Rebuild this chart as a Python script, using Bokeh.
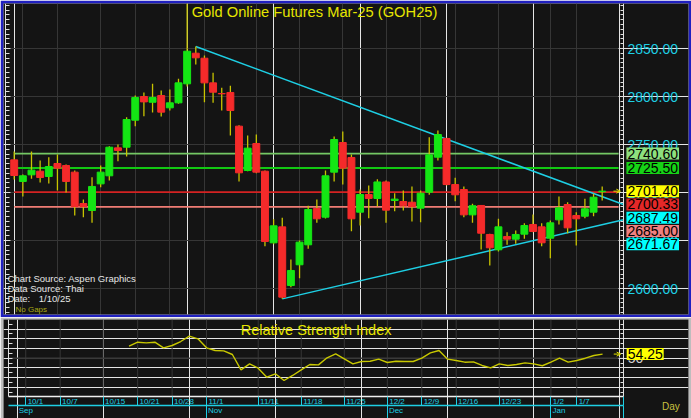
import numpy as np
from bokeh.plotting import figure
from bokeh.models import (ColumnDataSource, Range1d, LinearAxis, FixedTicker,
                          SingleIntervalTicker, Grid, Label, Arrow, OpenHead,
                          PrintfTickFormatter)
from bokeh.layouts import column
from bokeh.embed import file_html
from bokeh.resources import INLINE

# ---------------- data ----------------
opens = [2734.0, 2711.5, 2718.4, 2722.2, 2716.7, 2730.2, 2728.1, 2721.2, 2688.5, 2681.3,
         2709.0, 2717.4, 2746.5, 2747.2, 2775.3, 2800.0, 2794.0, 2801.0, 2788.2, 2793.4,
         2813.2, 2845.1, 2839.9, 2814.2, 2803.1, 2804.2, 2769.1, 2722.9, 2751.0, 2722.2,
         2647.6, 2664.2, 2603.1, 2624.7, 2645.5, 2683.3, 2674.3, 2721.2, 2752.1, 2736.5,
         2679.5, 2697.9, 2693.8, 2711.0, 2691.7, 2690.6, 2689.9, 2683.7, 2700.3, 2736.8,
         2756.3, 2708.3, 2703.1, 2676.7, 2686.5, 2656.3, 2640.3, 2654.2, 2651.4, 2656.6,
         2666.7, 2664.2, 2652.4, 2671.5, 2687.5, 2676.0, 2675.3, 2679.5, 2700.8]
highs = [2742.7, 2718.8, 2742.7, 2733.3, 2736.8, 2739.6, 2729.2, 2722.9, 2692.7, 2716.0,
         2728.1, 2748.3, 2750.0, 2778.5, 2801.0, 2804.2, 2813.2, 2806.3, 2807.3, 2818.4,
         2897.0, 2852.1, 2842.7, 2824.7, 2809.0, 2811.1, 2770.0, 2759.4, 2760.4, 2722.9,
         2672.2, 2673.6, 2630.2, 2650.0, 2686.1, 2692.7, 2722.9, 2758.3, 2763.5, 2739.6,
         2703.1, 2707.3, 2713.9, 2712.5, 2699.3, 2702.1, 2706.3, 2702.1, 2757.6, 2764.6,
         2757.0, 2715.3, 2706.3, 2688.2, 2687.0, 2657.0, 2672.6, 2658.7, 2660.4, 2668.1,
         2677.1, 2668.1, 2670.8, 2695.8, 2689.9, 2679.5, 2693.4, 2698.6, 2706.3]
lows = [2713.5, 2695.8, 2714.2, 2710.4, 2709.4, 2702.1, 2700.0, 2676.0, 2674.3, 2668.4,
        2705.6, 2712.5, 2732.6, 2737.5, 2769.1, 2779.5, 2783.3, 2779.2, 2785.4, 2792.4,
        2810.4, 2833.3, 2794.1, 2793.4, 2785.4, 2759.4, 2711.5, 2722.2, 2720.1, 2644.1,
        2646.0, 2589.2, 2601.4, 2610.8, 2641.3, 2668.4, 2673.0, 2711.5, 2708.3, 2659.7,
        2665.6, 2673.3, 2685.4, 2668.4, 2680.6, 2681.3, 2669.8, 2669.1, 2697.6, 2733.3,
        2707.3, 2691.0, 2674.3, 2668.6, 2640.6, 2624.0, 2638.5, 2645.5, 2646.5, 2651.7,
        2658.5, 2644.0, 2631.6, 2666.7, 2657.6, 2644.8, 2673.3, 2675.3, 2691.7]
closes = [2717.7, 2717.4, 2723.3, 2715.6, 2727.1, 2725.3, 2711.5, 2685.4, 2685.4, 2706.3,
          2721.2, 2747.2, 2743.8, 2776.0, 2799.0, 2794.4, 2799.0, 2783.7, 2793.4, 2814.2,
          2847.2, 2840.3, 2814.2, 2804.5, 2802.8, 2785.4, 2720.5, 2746.2, 2721.2, 2649.0,
          2665.3, 2591.0, 2618.8, 2648.3, 2682.3, 2672.6, 2717.4, 2755.2, 2725.3, 2672.6,
          2697.9, 2693.8, 2711.0, 2681.6, 2693.1, 2686.1, 2685.4, 2699.3, 2739.2, 2760.4,
          2708.3, 2697.6, 2676.7, 2686.2, 2657.6, 2642.4, 2664.2, 2651.4, 2656.3, 2665.6,
          2659.4, 2647.6, 2668.4, 2684.0, 2663.2, 2672.6, 2683.0, 2695.1, 2701.4]
rsi_start = 13
rsi_vals = [62.4, 66.5, 65.8, 66.5, 60.7, 63.1, 67.2, 72.7, 70.0, 60.7,
            57.9, 57.6, 53.8, 38.0, 44.2, 39.7, 30.4, 33.9, 27.0, 32.2,
            38.0, 43.5, 43.1, 50.4, 54.5, 49.4, 44.2, 46.6, 46.9, 49.0,
            45.6, 46.9, 46.6, 46.6, 50.0, 55.5, 57.9, 49.0, 47.6, 45.9,
            46.2, 42.5, 40.1, 44.2, 42.5, 43.5, 45.2, 44.2, 42.2, 45.9,
            50.0, 45.9, 47.6, 50.0, 52.8, 54.25]
tick_idx = [1, 5, 10, 14, 18, 22, 28, 33, 38, 43, 47, 51, 56, 62, 65]
tick_lbl = ["10/1", "10/7", "10/15", "10/21", "10/28", "11/1", "11/11", "11/18",
            "11/25", "12/2", "12/9", "12/16", "12/23", "1/2", "1/7"]
month_idx = [0, 22, 43, 62]
month_lbl = ["Sep", "Nov", "Dec", "Jan"]
level_vals = [2740.60, 2725.50, 2700.33, 2685.00]
level_cols = ["#74c864", "#12c812", "#d42222", "#f07c74"]
tag_vals = [2740.60, 2725.50, 2701.40, 2700.33, 2687.49, 2685.00, 2671.67]
tag_cols = ["#8ee07e", "#16d416", "#ffff00", "#e42828", "#00ffff", "#f08080", "#00ffff"]
upper_end = 2687.49
lower_end = 2671.67
last_rsi = 54.25

# ---------------- style ----------------
FONT = "Liberation Sans"
BG = "#141414"
GRID = "#363636"
CYAN = "#1ecfe4"
YEL = "#e6e600"
WICK = "#c8c400"
UP = "#14e614"
DN = "#f52a2a"
AXC = "#e0e0e0"

n = len(closes)
idx = list(range(n))
# axis positions (in bar units) and panel extents
ax_left, ax_right = -1.0, 70.46
main_x = (-1.2374, 77.981)
main_y = (2572.92, 2896.88)
rsi_x = (-1.584, 77.981)
rsi_y = (-12.16, 89.9)
rsi_lo, rsi_hi = 10.5, 89.9

# ---------------- main price panel ----------------
p = figure(width=691, height=317, x_range=Range1d(*main_x), y_range=Range1d(*main_y),
           x_axis_location=None, y_axis_location=None, toolbar_location=None,
           output_backend="svg", title=None,
           background_fill_color=BG, border_fill_color="#2020c0", outline_line_color=None,
           min_border_left=3, min_border_right=3, min_border_top=3, min_border_bottom=3)

ax_r = LinearAxis(fixed_location=ax_right,
                  ticker=SingleIntervalTicker(interval=50, num_minor_ticks=10),
                  formatter=PrintfTickFormatter(format="%.2f"),
                  axis_line_color=AXC, major_tick_line_color=AXC, minor_tick_line_color=AXC,
                  major_tick_in=5, major_tick_out=0, minor_tick_in=3, minor_tick_out=0,
                  major_label_text_color=CYAN, major_label_text_font=FONT,
                  major_label_text_font_size="14px", major_label_standoff=4)
p.add_layout(ax_r, "right")
ax_l = LinearAxis(fixed_location=ax_left,
                  ticker=SingleIntervalTicker(interval=50, num_minor_ticks=10),
                  axis_line_color=AXC, major_tick_line_color=AXC, minor_tick_line_color=AXC,
                  major_tick_in=5, major_tick_out=0, minor_tick_in=4, minor_tick_out=0,
                  major_label_text_color=None, major_label_standoff=0)
p.add_layout(ax_l, "left")
p.add_layout(Grid(dimension=0, ticker=FixedTicker(ticks=tick_idx), grid_line_color=GRID))
hgrid = list(range(2600, 2900, 50))
p.segment(x0=[ax_left] * len(hgrid), y0=hgrid, x1=[ax_right] * len(hgrid), y1=hgrid,
          line_color=GRID, line_width=1)

# level lines
x_line_end = n + 0.9
for v, c in zip(level_vals, level_cols):
    p.segment(x0=[0], y0=[v], x1=[x_line_end], y1=[v], line_color=c, line_width=1.8)

# trend lines
i_hi = 21
i_lo = 31
p.line([i_hi, ax_right], [highs[i_hi], upper_end], line_color=CYAN, line_width=1.5)
p.line([i_lo, ax_right], [lows[i_lo], lower_end], line_color=CYAN, line_width=1.5)

# candles
cols = [UP if c >= o else DN for o, c in zip(opens, closes)]
src = ColumnDataSource(dict(x=idx, o=opens, h=highs, l=lows, c=closes,
                            top=[max(a, b) for a, b in zip(opens, closes)],
                            bot=[min(a, b) for a, b in zip(opens, closes)], col=cols))
p.segment(x0="x", y0="l", x1="x", y1="h", source=src, line_color=WICK, line_width=1.3)
p.vbar(x="x", top="top", bottom="bot", width=0.8, fill_color="col", line_color="col",
       line_width=1, source=src)

# last price arrow
p.add_layout(Arrow(end=OpenHead(size=4, line_color=YEL, line_width=1),
                   x_start=n + 0.3, y_start=closes[-1], x_end=n + 1.1, y_end=closes[-1],
                   line_color=YEL, line_width=1))

# title
p.add_layout(Label(x=(ax_left + ax_right) / 2, y=2888.0,
                   text="Gold Online Futures Mar-25 (GOH25)",
                   text_font=FONT, text_font_size="14.7px", text_color=YEL,
                   text_align="center", text_baseline="middle"))

# info block
info_x = -0.77
for t, y in [("Chart Source: Aspen Graphics", 2610.7), ("Data Source: Thai", 2600.3),
             ("Date:", 2589.6)]:
    p.add_layout(Label(x=info_x, y=y, text=t, text_font=FONT, text_font_size="9.5px",
                       text_color="#e6e6e6", text_align="left", text_baseline="middle"))
p.add_layout(Label(x=2.84, y=2589.6, text="1/10/25", text_font=FONT, text_font_size="9.5px",
                   text_color="#e6e6e6", text_align="left", text_baseline="middle"))
p.add_layout(Label(x=0.15, y=2578.6, text="No Gaps", text_font=FONT, text_font_size="8px",
                   text_color="#a8a814", text_align="left", text_baseline="middle"))

# value tags on the right (stacked so they don't overlap)
gap = 13.85
prev = None
tag_pos = []
for v in tag_vals:
    yv = v if prev is None else min(v, prev - gap)
    tag_pos.append(yv)
    prev = yv
for v, yv, c in zip(tag_vals, tag_pos, tag_cols):
    p.add_layout(Label(x=70.8, y=yv, text="%.2f" % v, text_font=FONT, text_font_size="14px",
                       text_color="#000000", text_align="left", text_baseline="middle",
                       background_fill_color=c, padding=1))

# ---------------- RSI panel ----------------
r = figure(width=691, height=101, x_range=Range1d(*rsi_x), y_range=Range1d(*rsi_y),
           x_axis_location=None, y_axis_location=None, toolbar_location=None,
           output_backend="svg", title=None,
           background_fill_color=BG, border_fill_color="#bdbdbd", outline_line_color=None,
           min_border_left=0, min_border_right=3, min_border_top=2, min_border_bottom=0)

r.segment(x0=tick_idx, y0=[rsi_lo] * len(tick_idx), x1=tick_idx, y1=[rsi_hi] * len(tick_idx),
          line_color=GRID, line_width=1)
r.segment(x0=[ax_left], y0=[50], x1=[ax_right], y1=[50], line_color="#3a3a3a", line_width=1.5)

ra_r = LinearAxis(fixed_location=ax_right, bounds=(rsi_lo, rsi_hi),
                  ticker=FixedTicker(ticks=[50], minor_ticks=list(range(15, 90, 5))),
                  axis_line_color=AXC, major_tick_line_color=AXC, minor_tick_line_color=AXC,
                  major_tick_in=5, major_tick_out=0, minor_tick_in=3, minor_tick_out=0,
                  major_label_text_color="#cfcfcf", major_label_text_font=FONT,
                  major_label_text_font_size="14px", major_label_standoff=4)
r.add_layout(ra_r, "right")
ra_l = LinearAxis(fixed_location=ax_left, bounds=(rsi_lo, rsi_hi),
                  ticker=FixedTicker(ticks=[], minor_ticks=list(range(15, 90, 5))),
                  axis_line_color=AXC, minor_tick_line_color=AXC,
                  minor_tick_in=4, minor_tick_out=0, major_label_text_color=None,
                  major_label_standoff=0)
r.add_layout(ra_l, "left")

# date axis rows
ax_d = LinearAxis(fixed_location=rsi_lo, bounds=(ax_left, ax_right),
                  ticker=FixedTicker(ticks=tick_idx + [ax_right]),
                  axis_line_color="#f0f0f0", axis_line_width=1.5,
                  major_tick_line_color=CYAN, major_tick_in=0, major_tick_out=9,
                  major_label_text_color=None, major_label_standoff=0)
r.add_layout(ax_d, "below")
ax_m = LinearAxis(fixed_location=1.24, bounds=(ax_left, ax_right),
                  ticker=FixedTicker(ticks=month_idx[1:] + [ax_right]),
                  axis_line_color=CYAN, axis_line_width=1.5, major_tick_line_color=CYAN,
                  major_tick_in=0, major_tick_out=13,
                  major_label_text_color=None, major_label_standoff=0)
r.add_layout(ax_m, "below")
for i, t in zip(tick_idx, tick_lbl):
    r.add_layout(Label(x=i + 0.22, y=5.4, text=t, text_font=FONT, text_font_size="8px",
                       text_color=CYAN, text_align="left", text_baseline="middle"))
for i, t in zip(month_idx, month_lbl):
    r.add_layout(Label(x=i + 0.18, y=-4.4, text=t, text_font=FONT, text_font_size="8px",
                       text_color=CYAN, text_align="left", text_baseline="middle"))
r.add_layout(Label(x=74.9, y=0.2, text="Day", text_font=FONT, text_font_size="10px",
                   text_color="#c8c040", text_align="left", text_baseline="middle"))

rsi_xs = list(range(rsi_start, rsi_start + len(rsi_vals)))
r.line(rsi_xs, rsi_vals, line_color="#c8c800", line_width=1.4)
r.add_layout(Arrow(end=OpenHead(size=4, line_color=YEL, line_width=1),
                   x_start=n + 0.3, y_start=last_rsi, x_end=n + 1.1, y_end=last_rsi,
                   line_color=YEL, line_width=1))
r.add_layout(Label(x=(ax_left + ax_right) / 2, y=78.6, text="Relative Strength Index",
                   text_font=FONT, text_font_size="14.5px", text_color=YEL,
                   text_align="center", text_baseline="middle"))
r.add_layout(Label(x=70.8, y=last_rsi, text="%.2f" % last_rsi, text_font=FONT,
                   text_font_size="14px", text_color="#000000", text_align="left",
                   text_baseline="middle", background_fill_color="#ffff00", padding=1))

lay = column(p, r, spacing=0)
open("out.html", "w").write(file_html(lay, INLINE, "Gold Online Futures"))
